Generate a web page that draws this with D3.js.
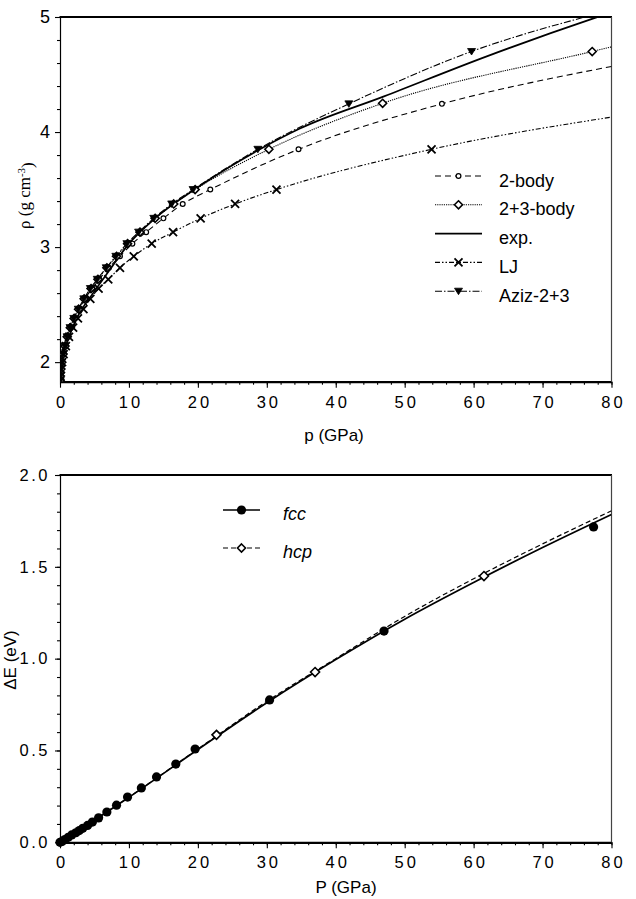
<!DOCTYPE html>
<html>
<head>
<meta charset="utf-8">
<script src="https://cdn.jsdelivr.net/npm/d3@7"></script>
<style>
  body { margin: 0; background: #fff; }
  svg { display: block; }
  text { font-family: "Liberation Sans", Arial, sans-serif; fill: #000; }
</style>
</head>
<body>
<div id="chart"></div>
<script>
// ---- top panel: density vs pressure ----
const xTicks = [0, 10, 20, 30, 40, 50, 60, 70, 80]
const rhoTicks = [2, 3, 4, 5]

const twoBodyP   = [0.01, 0.05, 0.13, 0.27, 0.46, 0.74, 1.08, 1.55, 2.1, 2.8, 3.6, 4.7, 5.7, 7.1, 8.7, 10.5, 12.5, 15.0, 17.8, 21.8, 34.6, 55.4]
const twoBodyRho = [1.84, 1.88, 1.94, 2.00, 2.07, 2.14, 2.22, 2.30, 2.38, 2.46, 2.55, 2.64, 2.72, 2.82, 2.92, 3.03, 3.13, 3.25, 3.375, 3.5, 3.85, 4.245]
const twoBodyEnd = [80, 4.57]

const threeBodyP   = [0.01, 0.05, 0.13, 0.26, 0.45, 0.72, 1.05, 1.5, 2.05, 2.7, 3.5, 4.5, 5.5, 6.8, 8.2, 9.8, 11.6, 13.8, 16.5, 19.6, 30.3, 46.8, 77.2]
const threeBodyRho = [1.84, 1.88, 1.94, 2.00, 2.07, 2.14, 2.22, 2.30, 2.38, 2.46, 2.55, 2.64, 2.72, 2.82, 2.92, 3.03, 3.13, 3.25, 3.375, 3.5, 3.85, 4.25, 4.70]
const threeBodyEnd = [80, 4.74]

const expP   = [0, 0.3, 1.2, 2.6, 4.8, 7.2, 9.6, 13.8, 19.5, 29, 34.8, 47, 62, 77.5, 80]
const expRho = [1.83, 2.0, 2.2, 2.4, 2.6, 2.8, 3.0, 3.25, 3.5, 3.85, 4.03, 4.31, 4.66, 4.99, 5.04]

const ljP   = [0.01, 0.05, 0.14, 0.3, 0.52, 0.85, 1.3, 1.9, 2.6, 3.4, 4.4, 5.6, 7.0, 8.7, 10.7, 13.3, 16.4, 20.4, 25.4, 31.4, 53.9]
const ljRho = [1.84, 1.88, 1.94, 2.00, 2.07, 2.14, 2.22, 2.30, 2.38, 2.46, 2.55, 2.64, 2.72, 2.82, 2.92, 3.03, 3.13, 3.25, 3.375, 3.5, 3.85]
const ljEnd = [80, 4.13]

const azizP   = [0.01, 0.05, 0.12, 0.25, 0.44, 0.7, 1.02, 1.45, 2.0, 2.65, 3.45, 4.4, 5.4, 6.7, 8.1, 9.7, 11.4, 13.6, 16.2, 19.3, 28.7, 41.9, 59.7]
const azizRho = [1.84, 1.88, 1.94, 2.00, 2.07, 2.14, 2.22, 2.30, 2.38, 2.46, 2.55, 2.64, 2.72, 2.82, 2.92, 3.03, 3.13, 3.25, 3.375, 3.5, 3.85, 4.245, 4.70]
const azizEnd = [78, 5.03]

// ---- bottom panel: energy difference vs pressure ----
const eTicks = [0, 0.5, 1.0, 1.5, 2.0]

const fccP  = [0, 0.3, 0.7, 1.2, 1.7, 2.3, 2.8, 3.3, 4.0, 4.7, 5.6, 6.8, 8.2, 9.8, 11.8, 14.0, 16.8, 19.6, 30.4, 47.0, 77.4]
const fccE  = [0, 0.005, 0.015, 0.027, 0.04, 0.052, 0.064, 0.076, 0.092, 0.11, 0.133, 0.165, 0.202, 0.246, 0.296, 0.356, 0.426, 0.508, 0.775, 1.15, 1.717]
const fccLineP = [0, 5, 10, 20, 30, 40, 50, 60, 70, 80]
const fccLineE = [0, 0.12, 0.245, 0.505, 0.76, 0.995, 1.215, 1.415, 1.605, 1.785]

const hcpP  = [22.7, 37.0, 61.5]
const hcpE  = [0.585, 0.927, 1.45]
const hcpLineP = [0, 10, 20, 30, 40, 50, 60, 70, 80]
const hcpLineE = [0, 0.246, 0.508, 0.768, 1.0, 1.23, 1.435, 1.625, 1.805]

const width = 636, height = 899

const svg = d3.select("#chart").append("svg")
    .attr("width", width)
    .attr("height", height)

const left = 60, right = 611.5
const x1 = d3.scaleLinear().domain([0, 80]).range([left, right])
const y1 = d3.scaleLinear().domain([1.83, 5]).range([381.7, 17])
const x2 = d3.scaleLinear().domain([0, 80]).range([left, right])
const y2 = d3.scaleLinear().domain([0, 2]).range([842.3, 475])

const zip = (a, b) => a.map((v, i) => [v, b[i]])

function clip(id, y) {
    svg.append("clipPath").attr("id", id)
      .append("rect")
        .attr("x", left).attr("y", y.range()[1])
        .attr("width", right - left).attr("height", y.range()[0] - y.range()[1])
}
clip("c1", y1)
clip("c2", y2)

const xMinor = d3.range(0, 41).map(v => v * 2)
const rhoMinor = d3.range(10, 26).map(v => Math.round(v * 2) / 10).filter(v => v % 1 !== 0)
const eMinor = d3.range(0, 21).map(v => v / 10)

function frame(x, y, yTickVals, yMinor, yFmt, yFont, yLS) {
    const y0 = y.range()[0], yT = y.range()[1]
    // minor ticks
    svg.append("g")
        .attr("transform", `translate(0,${y0})`)
        .call(d3.axisBottom(x).tickValues(xMinor).tickSize(3).tickFormat("").tickSizeOuter(0))
        .call(g => g.select(".domain").remove())
    svg.append("g")
        .attr("transform", `translate(${left},0)`)
        .call(d3.axisLeft(y).tickValues(yMinor).tickSize(3).tickFormat("").tickSizeOuter(0))
        .call(g => g.select(".domain").remove())
    // major
    const xa = svg.append("g")
        .attr("transform", `translate(0,${y0})`)
        .call(d3.axisBottom(x).tickValues(xTicks).tickSize(6).tickPadding(5).tickSizeOuter(0))
    xa.select(".domain").attr("stroke-width", 2.2)
    xa.selectAll("text")
        .style("font-size", "16.5px")
        .style("letter-spacing", "3px")
        .attr("dx", "1.5px")
        .attr("dy", "0.9em")
    const ya = svg.append("g")
        .attr("transform", `translate(${left},0)`)
        .call(d3.axisLeft(y).tickValues(yTickVals).tickSize(5).tickPadding(5).tickFormat(yFmt).tickSizeOuter(0))
    ya.select(".domain").attr("stroke-width", 1.2)
    ya.selectAll("text")
        .style("font-size", yFont)
        .style("letter-spacing", yLS)
    svg.selectAll(".tick line").attr("stroke-width", 1.1)
    // top and right borders
    svg.append("line")
        .attr("x1", left - 0.5).attr("x2", right + 0.5)
        .attr("y1", yT).attr("y2", yT)
        .attr("stroke", "#000").attr("stroke-width", 2.2)
    svg.append("line")
        .attr("x1", right).attr("x2", right)
        .attr("y1", yT).attr("y2", y0)
        .attr("stroke", "#444").attr("stroke-width", 1.2)
}

frame(x1, y1, rhoTicks, rhoMinor, d3.format("d"), "18px", "0px")
frame(x2, y2, eTicks, eMinor, d3.format(".1f"), "16.5px", "2.5px")

// axis titles
svg.append("text")
    .attr("x", 334).attr("y", 441)
    .attr("text-anchor", "middle")
    .style("font-size", "17px")
    .text("p (GPa)")
svg.append("text")
    .attr("x", 346).attr("y", 893)
    .attr("text-anchor", "middle")
    .style("font-size", "17px")
    .text("P (GPa)")

// rotated, so it starts at the bottom and reads upward
const rhoTitle = svg.append("text")
    .attr("transform", "translate(30,229) rotate(-90)")
    .style("font-family", "'Liberation Serif', 'Times New Roman', serif")
    .style("font-size", "17px")
rhoTitle.append("tspan").text("ρ (g cm")
rhoTitle.append("tspan").attr("dy", "-0.45em").style("font-size", "11px").text("-3")
rhoTitle.append("tspan").attr("dy", "0.45em").text(")")

svg.append("text")
    .attr("transform", "translate(16,660) rotate(-90)")
    .attr("text-anchor", "middle")
    .style("font-size", "17px")
    .text("ΔE (eV)")

// ---- top panel lines ----
const line1 = d3.line().x(d => x1(d[0])).y(d => y1(d[1])).curve(d3.curveMonotoneX)

const topSeries = [
    { name: "2-body", pts: zip(twoBodyP, twoBodyRho), end: twoBodyEnd, dash: "6,4", w: 1.1, marker: "circle" },
    { name: "2+3-body", pts: zip(threeBodyP, threeBodyRho), end: threeBodyEnd, dash: "1.2,1", w: 1.1, marker: "diamond" },
    { name: "exp.", pts: zip(expP, expRho), end: null, dash: null, w: 1.7, marker: null },
    { name: "LJ", pts: zip(ljP, ljRho), end: ljEnd, dash: "5,2,1.5,2,1.5,2", w: 1.1, marker: "cross" },
    { name: "Aziz-2+3", pts: zip(azizP, azizRho), end: azizEnd, dash: "7,2,1.5,2", w: 1.1, marker: "tri" }
]

const plot1 = svg.append("g").attr("clip-path", "url(#c1)")

topSeries.forEach(s => {
    const linePts = s.end ? s.pts.concat([s.end]) : s.pts
    plot1.append("path")
        .datum(linePts)
        .attr("fill", "none")
        .attr("stroke", "#000")
        .attr("stroke-width", s.w)
        .attr("stroke-dasharray", s.dash)
        .attr("d", line1)
})

function drawMarker(g, type, cx, cy, big) {
    if (type === "circle") {
        g.append("circle").attr("cx", cx).attr("cy", cy).attr("r", 2.4)
            .attr("fill", "#fff").attr("stroke", "#000").attr("stroke-width", 1.2)
    } else if (type === "diamond") {
        const r = big ? 4.5 : 4
        g.append("path")
            .attr("d", `M${cx},${cy - r}L${cx + r},${cy}L${cx},${cy + r}L${cx - r},${cy}Z`)
            .attr("fill", "#fff").attr("stroke", "#000").attr("stroke-width", 1.6)
    } else if (type === "cross") {
        const r = 4
        g.append("path")
            .attr("d", `M${cx - r},${cy - r}L${cx + r},${cy + r}M${cx - r},${cy + r}L${cx + r},${cy - r}`)
            .attr("stroke", "#000").attr("stroke-width", 1.8)
    } else if (type === "tri") {
        g.append("path")
            .attr("d", `M${cx - 4},${cy - 3}L${cx + 4},${cy - 3}L${cx},${cy + 3.5}Z`)
            .attr("fill", "#000").attr("stroke", "#000").attr("stroke-width", 0.8)
    } else if (type === "dot") {
        g.append("circle").attr("cx", cx).attr("cy", cy).attr("r", 4.6).attr("fill", "#000")
    }
}

topSeries.forEach(s => {
    if (!s.marker) return
    s.pts.forEach(d => drawMarker(plot1, s.marker, x1(d[0]), y1(d[1])))
})

// top legend
const leg1 = svg.append("g")
topSeries.forEach((s, i) => {
    const ly = 176 + i * 28.8
    leg1.append("line")
        .attr("x1", 435).attr("x2", 482).attr("y1", ly).attr("y2", ly)
        .attr("stroke", "#000").attr("stroke-width", s.w)
        .attr("stroke-dasharray", s.dash)
    if (s.marker) drawMarker(leg1, s.marker, 458.5, ly)
    leg1.append("text")
        .attr("x", 499).attr("y", ly + 10.5)
        .style("font-size", "18px")
        .text(s.name)
})

// ---- bottom panel ----
const line2 = d3.line().x(d => x2(d[0])).y(d => y2(d[1])).curve(d3.curveMonotoneX)
const plot2 = svg.append("g").attr("clip-path", "url(#c2)")

plot2.append("path")
    .datum(zip(hcpLineP, hcpLineE))
    .attr("fill", "none").attr("stroke", "#000").attr("stroke-width", 1.2)
    .attr("stroke-dasharray", "5,3")
    .attr("d", line2)
plot2.append("path")
    .datum(zip(fccLineP, fccLineE))
    .attr("fill", "none").attr("stroke", "#000").attr("stroke-width", 1.7)
    .attr("d", line2)

const markers2 = svg.append("g")
zip(fccP, fccE).forEach(d => drawMarker(markers2, "dot", x2(d[0]), y2(d[1])))
zip(hcpP, hcpE).forEach(d => drawMarker(markers2, "diamond", x2(d[0]), y2(d[1]), true))

// bottom legend
const leg2 = svg.append("g")
const legB = [
    { name: "fcc", dash: null, w: 1.6, marker: "dot" },
    { name: "hcp", dash: "5,3", w: 1.2, marker: "diamond" }
]
legB.forEach((s, i) => {
    const ly = 510 + i * 38
    leg2.append("line")
        .attr("x1", 223).attr("x2", 260).attr("y1", ly).attr("y2", ly)
        .attr("stroke", "#000").attr("stroke-width", s.w)
        .attr("stroke-dasharray", s.dash)
    drawMarker(leg2, s.marker, 241.5, ly, false)
    leg2.append("text")
        .attr("x", 283).attr("y", ly + 10)
        .style("font-size", "18px")
        .style("font-style", "italic")
        .text(s.name)
})
</script>
</body>
</html>
